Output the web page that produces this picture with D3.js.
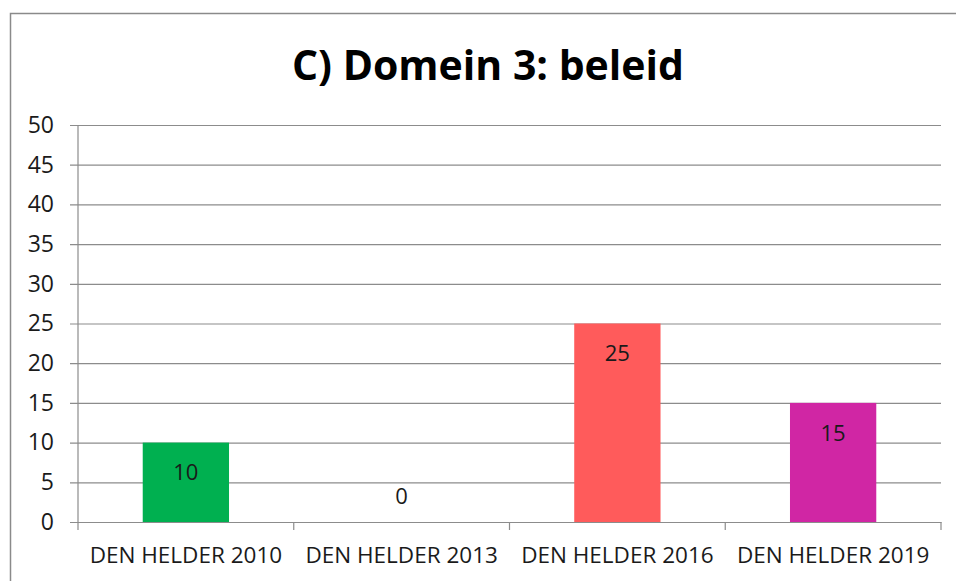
<!DOCTYPE html>
<html>
<head>
<meta charset="utf-8">
<script src="https://cdn.jsdelivr.net/npm/d3@7"></script>
<style>
  body { margin: 0; background: #fff; }
  text { font-family: "Open Sans", "DejaVu Sans", sans-serif; }
</style>
</head>
<body>
<div class="chart"></div>
<script>
// data
var categories = ["DEN HELDER 2010", "DEN HELDER 2013", "DEN HELDER 2016", "DEN HELDER 2019"];
var values = [10, 0, 25, 15];
var barColors = ["#00b050", "#00b050", "#ff5b5b", "#d026a4"];
var yTicks = [0, 5, 10, 15, 20, 25, 30, 35, 40, 45, 50];
var title = "C) Domein 3: beleid";

var svgWidth = 956;
var svgHeight = 581;

var margin = { top: 125, right: 15, bottom: 59, left: 78 };
var width = svgWidth - margin.left - margin.right;
var height = svgHeight - margin.top - margin.bottom;

var svg = d3.select(".chart")
    .append("svg")
    .attr("width", svgWidth)
    .attr("height", svgHeight);

// outer chart frame (top + left only visible)
svg.append("path")
    .attr("d", "M10.5,581 L10.5,13.5 L956,13.5")
    .attr("fill", "none")
    .attr("stroke", "#8a8a8a")
    .attr("stroke-width", 1.5);

svg.append("text")
    .attr("x", 488)
    .attr("y", 80)
    .attr("text-anchor", "middle")
    .attr("font-size", 42)
    .attr("font-weight", "bold")
    .attr("textLength", 392)
    .attr("lengthAdjust", "spacingAndGlyphs")
    .attr("fill", "#000")
    .text(title);

var chartGroup = svg.append("g")
    .attr("transform", `translate(${margin.left}, ${margin.top})`);

var xScale = d3.scaleBand()
    .domain(categories)
    .range([0, width])
    .paddingInner(0.6)
    .paddingOuter(0.3);

var xBand = d3.scaleBand().domain(categories).range([0, width]);

var yScale = d3.scaleLinear()
    .domain([0, 50])
    .range([height, 0]);

// gridlines + y axis
var leftAxis = d3.axisLeft(yScale)
    .tickValues(yTicks)
    .tickSize(-width)
    .tickPadding(24);

var yAxisG = chartGroup.append("g").call(leftAxis);
yAxisG.select(".domain").remove();
yAxisG.selectAll(".tick line")
    .attr("x1", -8)
    .attr("stroke", "#8c8c8c")
    .attr("stroke-width", 1.2);
yAxisG.selectAll(".tick text")
    .attr("font-size", 23)
    .attr("fill", "#1a1a1a")
    .attr("font-family", "Open Sans, sans-serif");

chartGroup.append("line")
    .attr("x1", 0).attr("x2", 0)
    .attr("y1", 0).attr("y2", height)
    .attr("stroke", "#8c8c8c")
    .attr("stroke-width", 1.2);

// bars
chartGroup.selectAll("rect.bar")
    .data(values)
    .enter()
    .append("rect")
    .attr("class", "bar")
    .attr("x", (d, i) => xScale(categories[i]))
    .attr("y", d => yScale(d))
    .attr("width", xScale.bandwidth())
    .attr("height", d => height - yScale(d))
    .attr("fill", (d, i) => barColors[i]);

// value labels
chartGroup.selectAll("text.val")
    .data(values)
    .enter()
    .append("text")
    .attr("class", "val")
    .attr("x", (d, i) => xScale(categories[i]) + xScale.bandwidth() / 2)
    .attr("y", d => d > 0 ? yScale(d) + 30 : yScale(d) - 26)
    .attr("dy", "0.35em")
    .attr("text-anchor", "middle")
    .attr("font-size", 22)
    .attr("fill", "#1a1a1a")
    .text(d => d);

// x axis
var bottomAxis = d3.axisBottom(xBand).tickSize(0).tickPadding(25);
var xAxisG = chartGroup.append("g")
    .attr("transform", `translate(0, ${height})`)
    .call(bottomAxis);
xAxisG.select(".domain")
    .attr("stroke", "#8c8c8c")
    .attr("stroke-width", 1.2);
xAxisG.selectAll(".tick text")
    .attr("font-size", 22.5)
    .attr("fill", "#1a1a1a")
    .attr("font-family", "Open Sans, sans-serif");

// category separators on x axis
var seps = [0].concat(categories.map(c => xBand(c) + xBand.bandwidth()));
xAxisG.selectAll("line.sep")
    .data(seps)
    .enter()
    .append("line")
    .attr("class", "sep")
    .attr("x1", d => d).attr("x2", d => d)
    .attr("y1", 0).attr("y2", 8)
    .attr("stroke", "#8c8c8c")
    .attr("stroke-width", 1.2);
</script>
</body>
</html>
